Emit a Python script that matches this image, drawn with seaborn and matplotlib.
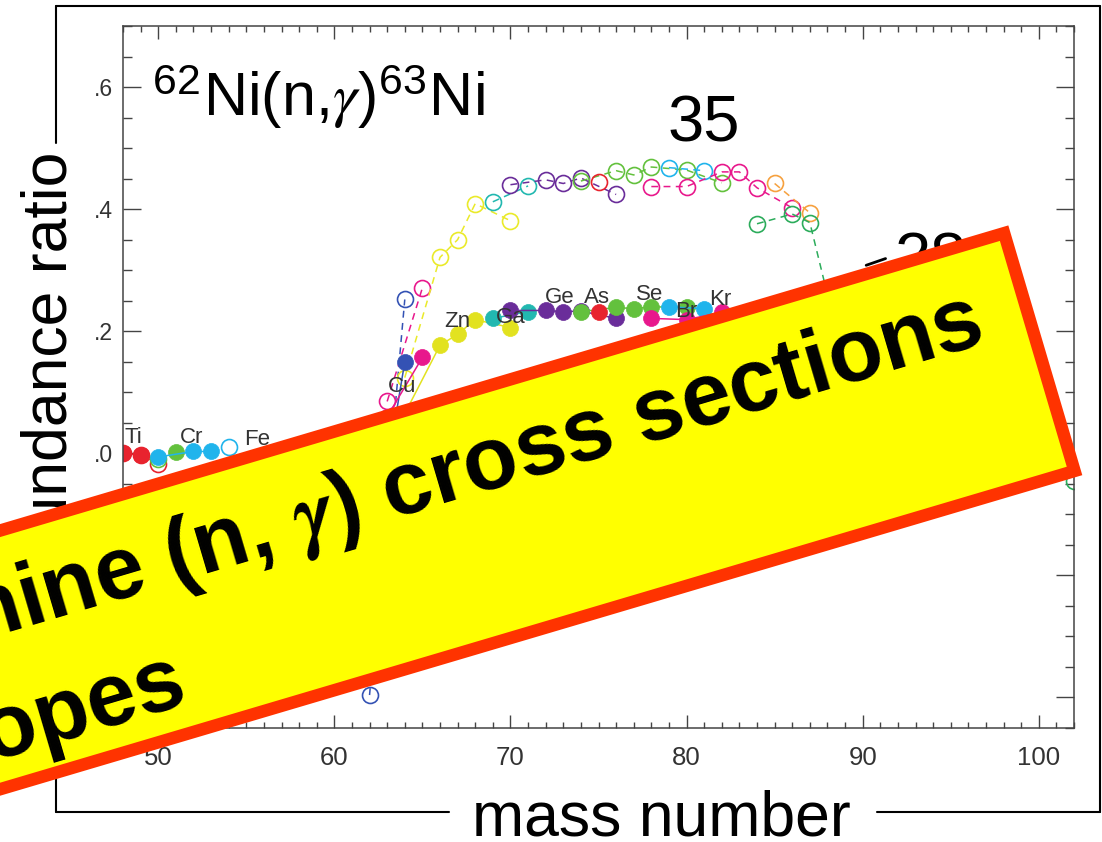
import matplotlib
matplotlib.use("Agg")
import matplotlib.pyplot as plt
import seaborn as sns
import numpy as np
from matplotlib.patches import Rectangle
from matplotlib.lines import Line2D
from matplotlib.ticker import MultipleLocator, FuncFormatter

# ---------------- data (mass number, abundance ratio) ----------------
# filled symbols, solid lines
ti_f_mass, ti_f_val = [48, 49], [0.0, -0.003]
v_f_mass, v_f_val = [51], [0.002]
cr_f_mass, cr_f_val = [50, 52, 53], [-0.006, 0.003, 0.003]
blue_f_mass, blue_f_val = [62, 64], [-0.20, 0.150]
mag1_f_mass, mag1_f_val = [63, 65], [0.06, 0.157]
yel_f_mass, yel_f_val = [64, 66, 67, 68, 70], [0.065, 0.177, 0.195, 0.219, 0.206]
teal_f_mass, teal_f_val = [69, 71], [0.221, 0.232]
pur_f_mass, pur_f_val = [70, 72, 73, 74, 76], [0.234, 0.234, 0.232, 0.233, 0.221]
grn_f_mass, grn_f_val = [74, 76, 77, 78, 80], [0.232, 0.239, 0.237, 0.240, 0.239]
red_f_mass, red_f_val = [75], [0.232]
cyan_f_mass, cyan_f_val = [79, 81], [0.240, 0.237]
mag2_f_mass, mag2_f_val = [78, 80, 82], [0.221, 0.219, 0.231]

# open symbols, dashed lines
ti_o_mass, ti_o_val = [48, 49, 50], [0.0, -0.002, -0.017]
v_o_mass, v_o_val = [50], [-0.010]
cr_o_mass, cr_o_val = [54], [0.011]
blue_o_mass, blue_o_val = [62, 64], [-0.396, 0.252]
mag1_o_mass, mag1_o_val = [63, 65], [0.085, 0.271]
yel_o_mass, yel_o_val = [64, 66, 67, 68, 70], [0.124, 0.321, 0.350, 0.409, 0.381]
teal_o_mass, teal_o_val = [69, 71], [0.412, 0.438]
pur_o_mass, pur_o_val = [70, 72, 73, 74, 76], [0.440, 0.448, 0.442, 0.451, 0.424]
grn_o_mass, grn_o_val = [74, 76, 77, 78, 80, 82], [0.446, 0.463, 0.456, 0.469, 0.464, 0.443]
red_o_mass, red_o_val = [75], [0.445]
cyan_o_mass, cyan_o_val = [79, 81], [0.468, 0.463]
mag2_o_mass, mag2_o_val = [78, 80, 82, 83, 84, 86], [0.437, 0.437, 0.461, 0.461, 0.435, 0.402]
org_o_mass, org_o_val = [85, 87], [0.442, 0.394]
grn2_o_mass, grn2_o_val = [84, 86, 87, 88, 102], [0.376, 0.392, 0.378, 0.26, -0.045]

# element labels
el_names = ["Ti", "Cr", "Fe", "Cu", "Zn", "Ga", "Ge", "As", "Se", "Br", "Kr"]
el_mass = [48.6, 51.9, 55.6, 63.85, 67.0, 70.0, 72.8, 74.9, 77.9, 80.0, 81.9]
el_val = [0.026, 0.026, 0.023, 0.110, 0.216, 0.222, 0.255, 0.255, 0.260, 0.232, 0.252]

x_ticks = [50, 60, 70, 80, 90, 100]
y_ticks = [-0.4, -0.2, 0.0, 0.2, 0.4, 0.6]

# colours
C = dict(red="#E8232E", green="#63C13D", cyan="#20B4EC", blue="#3452B4",
         mag="#E8188C", yel="#E2E220", teal="#22B8B0", pur="#6A2D9A",
         org="#F6A13F", grn2="#2CAC5B")

# ---------------- style ----------------
sns.set_theme(style="white")
plt.rcParams["font.family"] = ["Liberation Sans", "DejaVu Sans"]
plt.rcParams["mathtext.fontset"] = "custom"
plt.rcParams["mathtext.rm"] = "Liberation Sans"
plt.rcParams["mathtext.it"] = "STIXGeneral:italic"
plt.rcParams["mathtext.bf"] = "STIXGeneral:italic:bold"

W, H = 1102, 842
fig = plt.figure(figsize=(W / 100, H / 100), dpi=100)
fig.patch.set_facecolor("white")
ax = fig.add_axes([123 / W, 1 - 728 / H, (1074 - 123) / W, (728 - 26) / H])


def draw(mass, val, color, filled):
    sns.lineplot(x=mass, y=val, ax=ax, color=color, sort=False, errorbar=None,
                 linestyle="-" if filled else (0, (4.5, 3.5)), linewidth=1.1,
                 marker="o", markersize=11.5,
                 markerfacecolor=color if filled else "none",
                 markeredgecolor=color, markeredgewidth=1.2 if not filled else 0.5)


series = [
    (ti_o_mass, ti_o_val, C["red"], False),
    (v_o_mass, v_o_val, C["green"], False),
    (cr_o_mass, cr_o_val, C["cyan"], False),
    (blue_o_mass, blue_o_val, C["blue"], False),
    (mag1_o_mass, mag1_o_val, C["mag"], False),
    (yel_o_mass, yel_o_val, "#EAEA2A", False),
    (teal_o_mass, teal_o_val, C["teal"], False),
    (pur_o_mass, pur_o_val, C["pur"], False),
    (grn_o_mass, grn_o_val, C["green"], False),
    (red_o_mass, red_o_val, C["red"], False),
    (cyan_o_mass, cyan_o_val, C["cyan"], False),
    (mag2_o_mass, mag2_o_val, C["mag"], False),
    (org_o_mass, org_o_val, C["org"], False),
    (grn2_o_mass, grn2_o_val, C["grn2"], False),
    (ti_f_mass, ti_f_val, C["red"], True),
    (v_f_mass, v_f_val, C["green"], True),
    (cr_f_mass, cr_f_val, C["cyan"], True),
    (blue_f_mass, blue_f_val, C["blue"], True),
    (mag1_f_mass, mag1_f_val, C["mag"], True),
    (yel_f_mass, yel_f_val, C["yel"], True),
    (teal_f_mass, teal_f_val, C["teal"], True),
    (pur_f_mass, pur_f_val, C["pur"], True),
    (grn_f_mass, grn_f_val, C["green"], True),
    (red_f_mass, red_f_val, C["red"], True),
    (cyan_f_mass, cyan_f_val, C["cyan"], True),
    (mag2_f_mass, mag2_f_val, C["mag"], True),
]
for m, v, c, f in series:
    draw(m, v, c, f)

for name, m, v in zip(el_names, el_mass, el_val):
    ax.text(m, v, name, ha="center", va="center", fontsize=16, color="#333333", zorder=5)

ax.set_xlim(48, 102)
ax.set_ylim(-0.45, 0.70)
ax.set_xticks(x_ticks)
ax.set_yticks(y_ticks)
ax.xaxis.set_minor_locator(MultipleLocator(1))
ax.yaxis.set_minor_locator(MultipleLocator(0.05))
ax.yaxis.set_major_formatter(FuncFormatter(lambda v, p: f"{v:.1f}".replace("0.", ".")))
ax.set_xlabel("")
ax.set_ylabel("")
for s in ax.spines.values():
    s.set_color("#444444")
    s.set_linewidth(1.1)
ax.tick_params(axis="x", which="major", direction="in", top=True, bottom=True,
               length=9.5, width=1.0, color="#444444", labelsize=18.5,
               labelcolor="#333333", pad=13)
ax.tick_params(axis="x", which="minor", direction="in", top=True, bottom=True,
               length=4.5, width=1.0, color="#444444")
ax.tick_params(axis="y", which="major", direction="in", left=True, right=True,
               length=13, width=1.0, color="#444444", labelsize=16.5,
               labelcolor="#333333", pad=7)
ax.tick_params(axis="y", which="minor", direction="in", left=True, right=True,
               length=6.5, width=1.0, color="#444444")

# annotations inside the plot
ax.text(49.66, 0.553, r"$^{\mathrm{62}}$Ni(n,$\gamma$)$^{\mathrm{63}}$Ni",
        fontsize=44, ha="left", va="baseline", color="black")
ax.text(78.9, 0.510, "35", fontsize=47, ha="left", va="baseline", color="black")
ax.text(91.8, 0.286, "28", fontsize=47, ha="left", va="baseline", color="black")
ax.plot([91.3, 90.2], [0.319, 0.308], color="black", lw=2)

# ---------------- figure-level decorations (pixel coords -> inches) ----------------
def px(x, y):
    return (x / 100, (H - y) / 100)

T = fig.dpi_scale_trans
frame_segments = [((56, 6), (1100, 6)), ((1100, 6), (1100, 812)),
                  ((56, 812), (449, 812)), ((877, 812), (1100, 812)),
                  ((56, 6), (56, 143)), ((56, 635), (56, 812))]
for a, b in frame_segments:
    (x0, y0), (x1, y1) = px(*a), px(*b)
    fig.add_artist(Line2D([x0, x1], [y0, y1], transform=T, color="black", lw=1.5))

fig.text(*px(50, 376), "abundance ratio", transform=T, rotation=90,
         fontsize=45, ha="center", va="center", color="black")
fig.text(*px(661, 836), "mass number", transform=T, fontsize=45,
         ha="center", va="baseline", color="black")

# banner
theta = 16.5
th = np.deg2rad(theta)
along = np.array([np.cos(th), np.sin(th)])
up = np.array([-np.sin(th), np.cos(th)])
br = np.array([1082.0, H - 475.0]) + 6 * up - 6 * along
L, Hb = 1600.0, 248.0
ll = br - L * along
fig.add_artist(Rectangle((ll[0] / 100, ll[1] / 100), L / 100, Hb / 100, angle=theta,
                         transform=T, facecolor="#FFFF00", edgecolor="#FF3300",
                         linewidth=9, joinstyle="miter", zorder=20))
fig.text(*px(986, 343), r"Determine (n, $\mathbf{\gamma}$) cross sections",
         transform=T, rotation=theta, rotation_mode="anchor", fontsize=64,
         fontweight="bold", ha="right", va="baseline", color="black", zorder=21)
fig.text(*px(190, 701), "isotopes", transform=T, rotation=theta,
         rotation_mode="anchor", fontsize=64, fontweight="bold", ha="right",
         va="baseline", color="black", zorder=21)

fig.savefig("out.png", dpi=100)
